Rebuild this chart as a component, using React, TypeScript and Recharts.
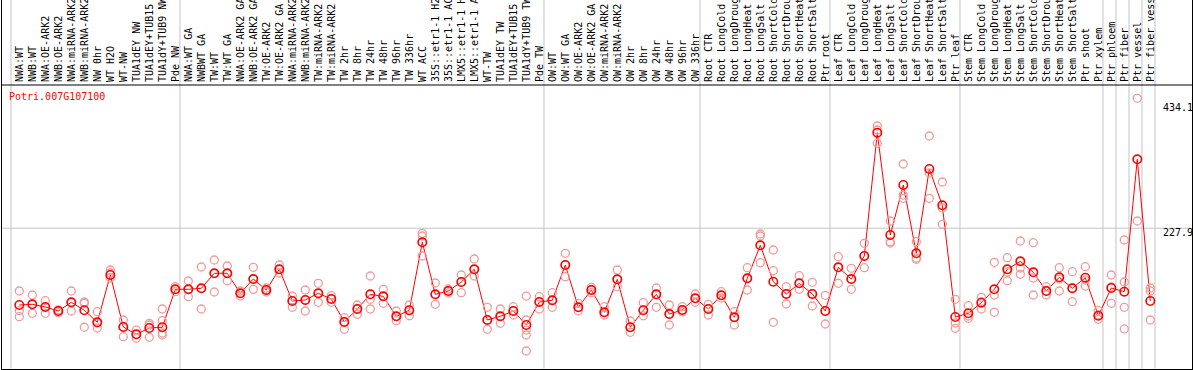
import React from 'react';
import { ComposedChart, Line, XAxis, YAxis, ReferenceLine } from 'recharts';

const title = 'Potri.007G107100';

const categories = [
  'NWA:WT', 'NWB:WT', 'NWA:OE-ARK2', 'NWB:OE-ARK2', 'NWA:miRNA-ARK2', 'NWB:miRNA-ARK2', 'NW 0hr', 'WT H2O', 'WT-NW', 'TUA1dEY NW', 'TUA1dEY+TUB15', 'TUA1dY+TUB9 NW', 'Pde NW',
  'NWA:WT GA', 'NWBWT GA', 'TW:WT', 'TW:WT GA', 'NWA:OE-ARK2 GA', 'NWB:OE-ARK2 GA', 'TW:OE-ARK2', 'TW:OE-ARK2 GA', 'NWA:miRNA-ARK2', 'NWB:miRNA-ARK2', 'TW:miRNA-ARK2', 'TW:miRNA-ARK2',
  'TW 2hr', 'TW 8hr', 'TW 24hr', 'TW 48hr', 'TW 96hr', 'TW 336hr', 'WT ACC', '35S::etr1-1 H2', '35S::etr1-1 AC', 'LMX5::etr1-1 H', 'LMX5::etr1-1 A', 'WT-TW', 'TUA1dEY TW', 'TUA1dEY+TUB15', 'TUA1dY+TUB9 TW', 'Pde TW',
  'OW:WT', 'OW:WT GA', 'OW:OE-ARK2', 'OW:OE-ARK2 GA', 'OW:miRNA-ARK2', 'OW:miRNA-ARK2', 'OW 2hr', 'OW 8hr', 'OW 24hr', 'OW 48hr', 'OW 96hr', 'OW 336hr',
  'Root CTR', 'Root LongCold', 'Root LongDroug', 'Root LongHeat', 'Root LongSalt', 'Root ShortCold', 'Root ShortDrou', 'Root ShortHeat', 'Root ShortSalt', 'Ptr root',
  'Leaf CTR', 'Leaf LongCold', 'Leaf LongDroug', 'Leaf LongHeat', 'Leaf LongSalt', 'Leaf ShortCold', 'Leaf ShortDrou', 'Leaf ShortHeat', 'Leaf ShortSalt', 'Ptr leaf',
  'Stem CTR', 'Stem LongCold', 'Stem LongDroug', 'Stem LongHeat', 'Stem LongSalt', 'Stem ShortCold', 'Stem ShortDrou', 'Stem ShortHeat', 'Stem ShortSalt', 'Ptr shoot', 'Ptr xylem',
  'Ptr phloem', 'Ptr fiber', 'Ptr vessel', 'Ptr fiber vess',
];

// number of categories in each separated group
const groupSizes = [13, 28, 12, 10, 10, 11, 1, 1, 1, 1];

const means = [
  96.9, 98.1, 93.5, 86.7, 101.5, 87.9, 67.4, 148.1, 59.4, 46.9, 57.7, 58.9, 123.7,
  123.7, 125.4, 151.0, 151.0, 116.9, 141.2, 122.5, 157.8, 103.7, 105.4, 116.9, 107.1,
  67.9, 90.1, 115.1, 111.7, 77.6, 87.9, 203.9, 115.1, 120.8, 136.1, 157.8, 71.3, 77.6, 86.7, 62.8, 102.0,
  104.9, 165.1, 93.0, 122.5, 84.4, 140.7, 58.9, 87.9, 115.1, 81.5, 88.4, 108.3,
  90.1, 113.4, 75.9, 142.4, 198.7, 136.6, 115.7, 133.9, 115.7, 86.7,
  161.2, 141.2, 180.5, 390.8, 216.3, 301.6, 185.1, 328.9, 267.0, 76.4,
  82.7, 100.8, 123.7, 157.8, 171.4, 152.7, 120.8, 144.1, 125.4, 143.5, 78.6,
  125.9, 119.6, 345.4, 103.7,
];

const rep1 = [
  120.8, 114.0, 104.2, 88.4, 120.8, 102.0, 85.5, 156.6, 71.3, 54.2, 65.7, 90.1, 128.1,
  137.8, 161.7, 173.7, 163.4, 120.8, 161.2, 125.9, 165.1, 112.2, 122.5, 133.9, 112.8,
  75.2, 96.9, 146.4, 123.7, 86.7, 96.9, 219.2, 134.4, 124.2, 148.1, 175.4, 93.0, 90.1, 94.0, 112.2, 111.1,
  117.9, 185.1, 99.8, 127.1, 94.0, 156.6, 69.6, 100.8, 125.9, 96.9, 94.0, 115.7,
  98.1, 119.6, 85.5, 160.5, 218.0, 190.7, 128.1, 146.9, 135.6, 113.4,
  179.3, 159.5, 202.1, 402.3, 240.2, 337.4, 204.9, 385.2, 306.7, 106.6,
  95.7, 110.0, 169.7, 177.6, 206.1, 203.2, 128.1, 160.5, 153.7, 162.2, 87.2,
  148.1, 207.8, 449.5, 125.9,
];

const rep2 = [
  87.2, 98.1, 93.5, 86.7, 101.5, 99.8, 66.2, 151.5, 59.4, 46.9, 62.8, 70.1, 123.7,
  123.7, 125.4, 151.0, 151.0, 116.9, 141.2, 122.5, 157.8, 103.7, 105.4, 116.9, 107.1,
  67.9, 90.1, 106.6, 111.7, 77.6, 87.9, 214.6, 115.1, 120.8, 136.1, 157.8, 71.3, 77.6, 86.7, 71.3, 102.0,
  104.9, 165.1, 93.0, 122.5, 84.4, 140.7, 58.9, 87.9, 115.1, 81.5, 88.4, 108.3,
  90.1, 113.4, 75.9, 142.4, 214.6, 155.4, 115.7, 133.9, 115.7, 86.7,
  161.2, 141.2, 180.5, 395.4, 204.9, 284.5, 177.1, 322.1, 262.4, 66.2,
  78.1, 102.0, 114.0, 153.2, 160.0, 143.0, 120.8, 141.2, 125.9, 139.5, 79.8,
  127.6, 136.1, 240.2, 120.8,
];

const rep3 = [
  77.0, 82.7, 82.7, 83.8, 86.7, 58.9, 57.7, 143.0, 42.8, 40.1, 41.8, 49.1, 119.6,
  111.1, 90.1, 119.1, 138.3, 112.2, 123.7, 119.1, 151.5, 93.0, 86.7, 101.5, 101.5,
  55.4, 81.0, 90.1, 99.8, 70.1, 78.6, 180.5, 98.1, 117.4, 117.9, 146.4, 55.4, 65.7, 79.8, 54.2, 90.1,
  93.0, 145.2, 87.2, 117.9, 79.8, 128.1, 50.3, 78.6, 93.0, 62.8, 85.0, 101.5,
  79.8, 108.8, 62.8, 122.5, 169.1, 67.4, 98.6, 123.7, 95.2, 64.5,
  133.9, 123.7, 160.5, 372.7, 202.7, 278.9, 174.9, 278.9, 234.6, 57.1,
  74.2, 90.1, 84.4, 138.3, 149.3, 114.0, 114.0, 120.8, 102.5, 129.3, 72.5,
  99.8, 93.0, null, 71.3,
];

const rep4: (number | null)[] = categories.map(() => null);
rep4[11] = 45.7;
rep4[39] = 45.7;
rep4[85] = 56.0;

const rep5: (number | null)[] = categories.map(() => null);
rep5[39] = 18.4;

const yTicks = [0, 227.9, 434.1];
const gridValues = [227.9];

const data = categories.map((label, i) => ({
  idx: i,
  label,
  mean: means[i],
  r1: rep1[i],
  r2: rep2[i],
  r3: rep3[i],
  r4: rep4[i],
  r5: rep5[i],
}));

// group separators: just after the last category of each group (and one before the first)
const separators: number[] = [];
{
  let end = -1;
  separators.push(end + 0.36);
  for (const s of groupSizes) {
    end += s;
    separators.push(end + 0.36);
  }
}

const FONT = '"DejaVu Sans Mono", monospace';
const GRID = '#c4c4c4';
const REP = '#f29a9a';
const MEAN = '#ff0000';

const CatTick = (props: any) => {
  const { x, y, payload } = props;
  const label = categories[payload.value] ?? '';
  return (
    <text
      x={x}
      y={y}
      transform={`rotate(-90 ${x} ${y})`}
      textAnchor="start"
      dy="0.35em"
      fontFamily={FONT}
      fontSize={10}
      fill="#000"
    >
      {label}
    </text>
  );
};

const ValTick = (props: any) => {
  const { x, y, payload } = props;
  const below = gridValues.includes(payload.value);
  return (
    <text
      x={x - 29}
      y={y}
      dy={below ? 8 : 3.5}
      textAnchor="start"
      fontFamily={FONT}
      fontSize={10}
      fill="#000"
    >
      {String(payload.value)}
    </text>
  );
};

const repDot = (p: any) => {
  if (p.value == null || p.cy == null || isNaN(p.cy)) return <g key={`e-${p.index}`} />;
  return <circle key={`d-${p.index}`} cx={p.cx} cy={p.cy} r={4} fill="none" stroke={REP} strokeWidth={1.3} />;
};

const meanDot = (p: any) => {
  if (p.value == null || p.cy == null) return <g key={`e-${p.index}`} />;
  return <circle key={`m-${p.index}`} cx={p.cx} cy={p.cy} r={4.2} fill="none" stroke={MEAN} strokeWidth={1.6} />;
};

const FullHeightLine = (p: any) => (
  <line x1={p.x1} x2={p.x2} y1={0} y2={370} stroke={GRID} strokeWidth={1} />
);

export default function App() {
  return (
    <div style={{ position: 'absolute', left: 0, top: 0, width: 1194, height: 370, background: '#fff' }}>
      <ComposedChart
        width={1194}
        height={370}
        data={data}
        margin={{ top: 0, right: 2, bottom: 1, left: 1 }}
      >
        <XAxis
          dataKey="idx"
          type="number"
          orientation="top"
          height={85}
          domain={[-1.408, 90.208]}
          ticks={data.map((d) => d.idx)}
          interval={0}
          allowDataOverflow
          tick={<CatTick />}
          tickLine={false}
          tickSize={0}
          tickMargin={3}
          axisLine={{ stroke: '#000', strokeWidth: 1 }}
        />
        <YAxis
          orientation="right"
          mirror
          type="number"
          domain={[-12.28, 472.2]}
          ticks={yTicks}
          allowDataOverflow
          tick={<ValTick />}
          tickLine={false}
          tickSize={0}
          tickMargin={0}
          axisLine={false}
        />
        <ReferenceLine y={227.9} stroke={GRID} strokeWidth={1} />
        {separators.map((s) => (
          <ReferenceLine key={`sep-${s}`} x={s} shape={FullHeightLine} />
        ))}
        <Line dataKey="r1" stroke="none" dot={repDot} activeDot={false} isAnimationActive={false} />
        <Line dataKey="r2" stroke="none" dot={repDot} activeDot={false} isAnimationActive={false} />
        <Line dataKey="r3" stroke="none" dot={repDot} activeDot={false} isAnimationActive={false} />
        <Line dataKey="r4" stroke="none" dot={repDot} activeDot={false} isAnimationActive={false} />
        <Line dataKey="r5" stroke="none" dot={repDot} activeDot={false} isAnimationActive={false} />
        <Line
          dataKey="mean"
          type="linear"
          stroke={MEAN}
          strokeWidth={1}
          dot={meanDot}
          activeDot={false}
          isAnimationActive={false}
        />
      </ComposedChart>
      <div
        style={{
          position: 'absolute',
          left: 9,
          top: 92,
          fontFamily: FONT,
          fontSize: 10,
          lineHeight: '10px',
          color: '#ff0000',
          whiteSpace: 'nowrap',
        }}
      >
        {title}
      </div>
      <div
        style={{
          position: 'absolute',
          left: 1,
          top: 0,
          width: 1192,
          height: 370,
          boxSizing: 'border-box',
          borderLeft: '1px solid #000',
          borderRight: '1px solid #000',
          borderBottom: '1px solid #000',
          pointerEvents: 'none',
        }}
      />
    </div>
  );
}
